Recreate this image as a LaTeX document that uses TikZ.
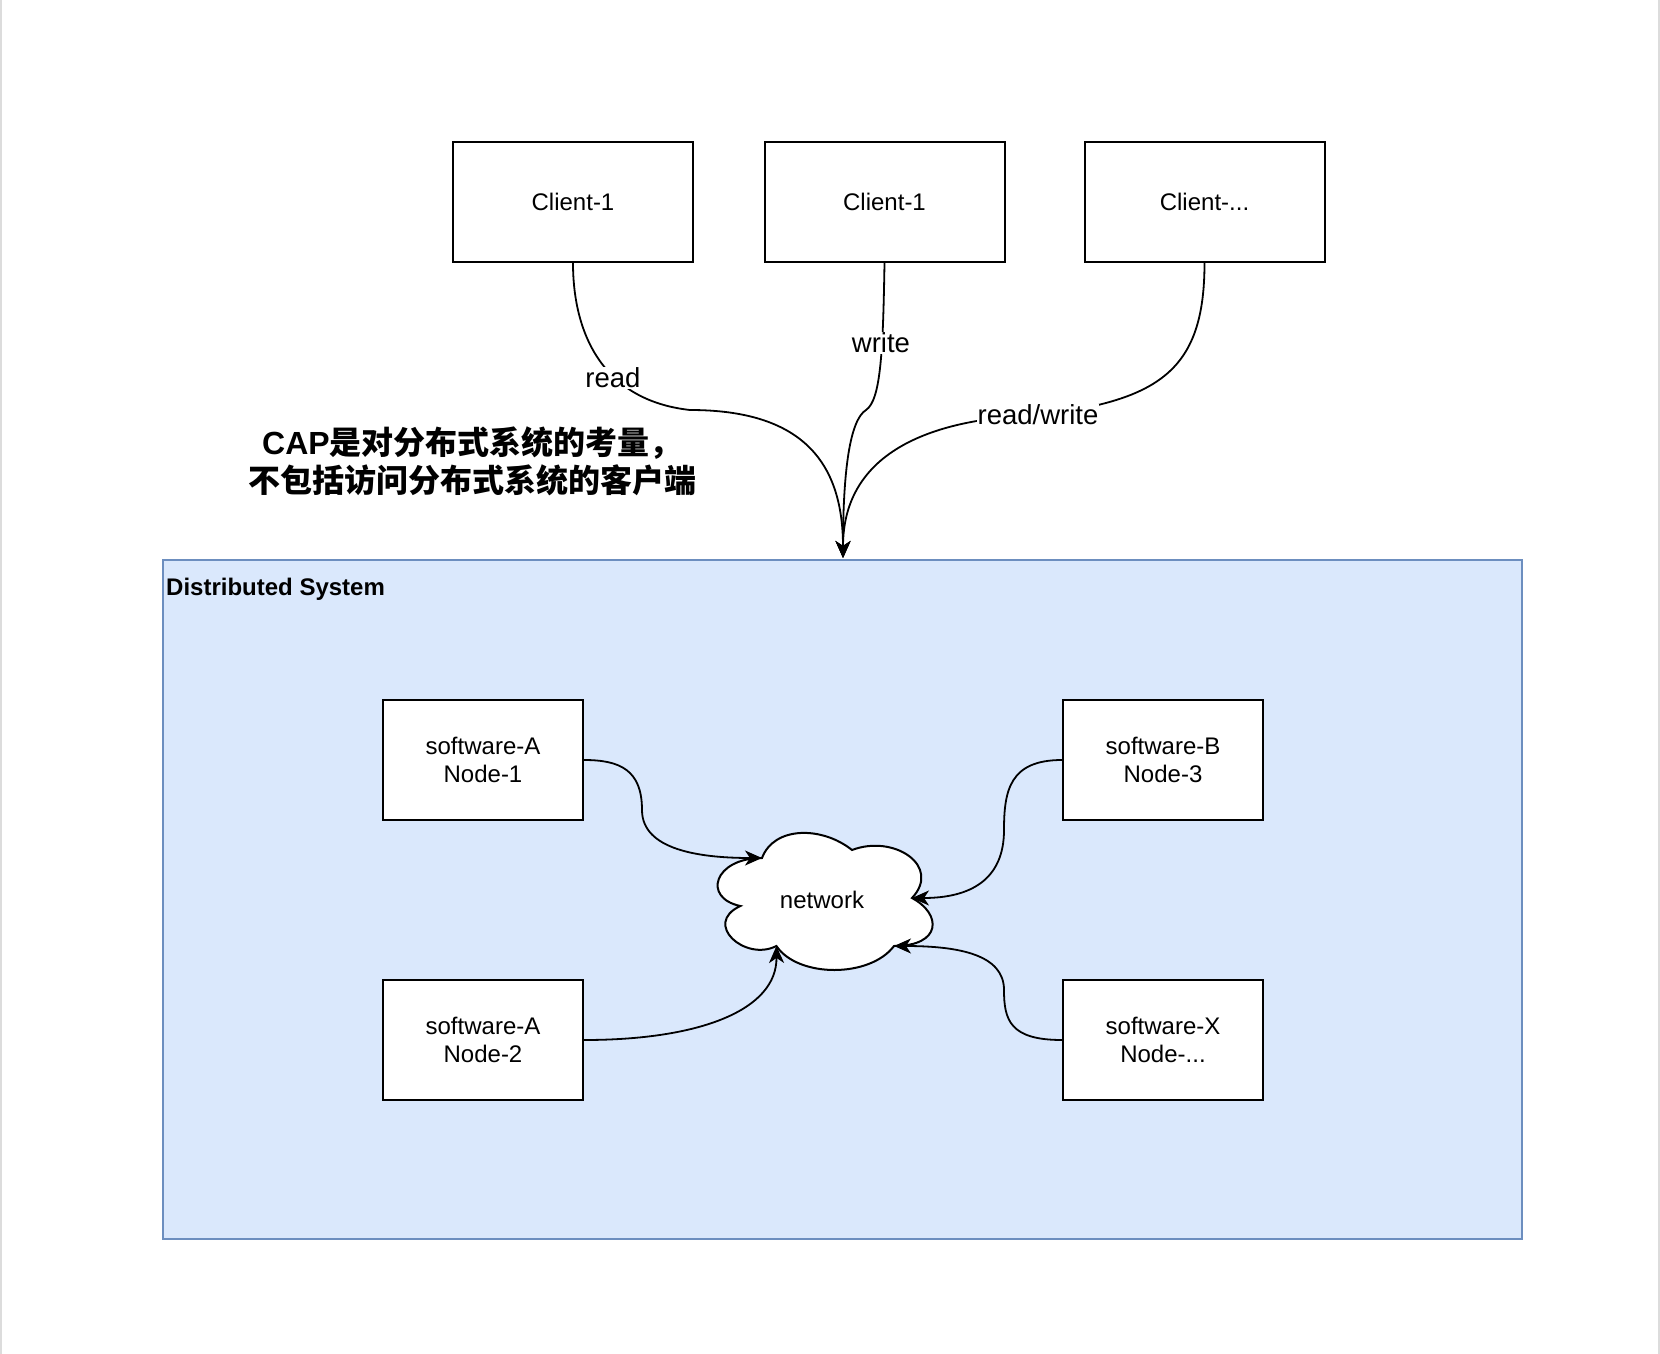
\documentclass[tikz,border=0pt]{standalone}
\usepackage{fontspec}
\setmainfont{Liberation Sans}
\newfontfamily\cjk{Noto Sans CJK SC}
\usetikzlibrary{arrows.meta}
\definecolor{dsfill}{HTML}{DAE8FC}
\definecolor{dsline}{HTML}{6C8EBF}
\definecolor{pageline}{HTML}{DCDCDC}
\tikzset{
  box/.style={draw=black, line width=2pt, fill=white, minimum width=200pt, minimum height=120pt,
    align=center, font=\fontsize{24}{28}\selectfont, inner sep=0pt},
  client/.style={box, minimum width=240pt},
  edge/.style={line width=1.8pt, -{Stealth[length=17pt,width=15pt,inset=5pt]}},
  lbl/.style={fill=white, font=\fontsize{27.5}{32}\selectfont, inner sep=1pt},
  cloudline/.style={draw=black, fill=white, line width=2pt},
}
\begin{document}
\begin{tikzpicture}[x=1pt,y=-1pt]
\useasboundingbox (0,0) rectangle (1660,1354);
\fill[white] (0,0) rectangle (1660,1354);
\fill[pageline] (0,0) rectangle (2,1354);
\fill[pageline] (1658,0) rectangle (1660,1354);

% distributed system container
\node[draw=dsline, fill=dsfill, line width=2pt, minimum width=1359pt, minimum height=679pt, inner sep=0pt]
  (ds) at (842.5,899.5) {};
\node[anchor=base west, inner sep=0pt, font=\bfseries\fontsize{24}{28}\selectfont] (dstitle) at (166,595) {Distributed System};

% clients
\node[client] (c1) at (573,202) {Client-1};
\node[client] (c2) at (884.5,202) {Client-1};
\node[client] (c3) at (1204.5,202) {Client-...};

% note
\node[align=center, inner sep=0pt, font=\bfseries\fontsize{32}{38}\selectfont] (cap) at (472,461)
  {CAP{\cjk 是对分布式系统的考量，}\\{\cjk 不包括访问分布式系统的客户端}};

% software nodes
\node[box] (n1) at (483,760) {software-A\\Node-1};
\node[box] (n2) at (483,1040) {software-A\\Node-2};
\node[box] (n3) at (1163,760) {software-B\\Node-3};
\node[box] (nx) at (1163,1040) {software-X\\Node-...};

% cloud
\draw[cloudline] (762,858) .. controls (714,858) and (702,898) .. (740.4,906)
  .. controls (702,923.6) and (745.2,962) .. (776.4,946)
  .. controls (798,978) and (870,978) .. (894,946)
  .. controls (942,946) and (942,914) .. (912,898)
  .. controls (942,866) and (894,834) .. (852,850)
  .. controls (822,826) and (774,826) .. (762,858) -- cycle;
\node[font=\fontsize{24}{28}\selectfont, inner sep=0pt] (net) at (822,900) {network};
\coordinate (netNW) at (762,858);
\coordinate (netSW) at (776.4,946);
\coordinate (netE) at (912,898);
\coordinate (netSE) at (894,946);
\coordinate (tip) at (843,558);

% client connectors
\draw[edge] (c1.south) .. controls (573,330) and (600,400) .. (690,410)
  .. controls (800,410) and (843,460) .. (tip);
\draw[edge] (c2.south) .. controls (883,350) and (881,400) .. (866,410)
  .. controls (850,420) and (843,470) .. (tip);
\draw[edge] (c3.south) .. controls (1204.5,370) and (1160,400) .. (1040,415)
  .. controls (935,418) and (843,450) .. (tip);
\node[lbl] (lread) at (613,378) {read};
\node[lbl] (lwrite) at (881,343) {write};
\node[lbl] (lrw) at (1038,415) {read/write};

% node connectors
\draw[edge] (n1.east) .. controls (620,760) and (642,770) .. (642,810)
  .. controls (642,850) and (700,858) .. (netNW);
\draw[edge] (n2.east) .. controls (700,1040) and (777,1010) .. (netSW);
\draw[edge] (n3.west) .. controls (1010,760) and (1004,790) .. (1004,830)
  .. controls (1004,880) and (970,898) .. (netE);
\draw[edge] (nx.west) .. controls (1010,1040) and (1004,1020) .. (1004,990)
  .. controls (1004,955) and (960,946) .. (netSE);
\end{tikzpicture}
\end{document}
